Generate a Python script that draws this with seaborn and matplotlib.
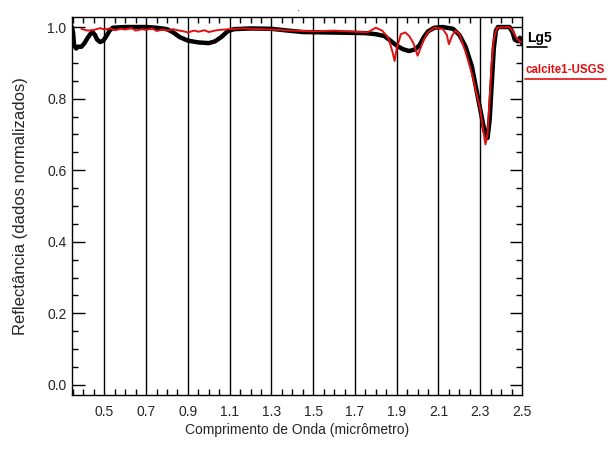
import matplotlib
matplotlib.use("Agg")
import matplotlib.pyplot as plt
import matplotlib.ticker as mticker
import seaborn as sns
import pandas as pd
import numpy as np

# ---- data ----
lg5_wl = [0.345, 0.35, 0.355, 0.365, 0.375, 0.39, 0.405, 0.42, 0.435, 0.445,
          0.455, 0.465, 0.48, 0.495, 0.51, 0.525, 0.54, 0.6, 0.7, 0.75,
          0.8, 0.83, 0.86, 0.9, 0.95, 1.0, 1.03, 1.06, 1.09, 1.12,
          1.2, 1.3, 1.38, 1.45, 1.55, 1.65, 1.75, 1.8, 1.84, 1.87,
          1.9, 1.93, 1.96, 1.99, 2.01, 2.03, 2.05, 2.08, 2.12, 2.17,
          2.2, 2.23, 2.26, 2.28, 2.30, 2.32, 2.335, 2.345, 2.355, 2.365,
          2.375, 2.385, 2.44, 2.455, 2.465, 2.48, 2.49, 2.5]
lg5_refl = [1.00, 0.985, 0.95, 0.94, 0.945, 0.945, 0.955, 0.97, 0.982, 0.985,
            0.978, 0.965, 0.958, 0.962, 0.975, 0.99, 0.998, 1.0, 1.0, 0.998,
            0.994, 0.985, 0.972, 0.962, 0.957, 0.955, 0.96, 0.972, 0.988, 0.994,
            0.996, 0.995, 0.99, 0.986, 0.985, 0.984, 0.983, 0.98, 0.975, 0.962,
            0.948, 0.938, 0.933, 0.938, 0.95, 0.972, 0.988, 0.998, 1.0, 0.995,
            0.978, 0.945, 0.89, 0.83, 0.77, 0.71, 0.69, 0.74, 0.84, 0.94,
            0.99, 1.0, 1.0, 0.985, 0.965, 0.96, 0.97, 0.955]

calcite_wl = [0.39, 0.42, 0.45, 0.48, 0.5, 0.53, 0.55, 0.58, 0.6, 0.63,
              0.65, 0.68, 0.7, 0.73, 0.75, 0.78, 0.8, 0.83, 0.85, 0.88,
              0.9, 0.93, 0.95, 0.98, 1.0, 1.03, 1.05, 1.1, 1.15, 1.2,
              1.3, 1.4, 1.5, 1.6, 1.7, 1.76, 1.8, 1.83, 1.86, 1.88,
              1.89, 1.90, 1.92, 1.94, 1.96, 1.98, 2.0, 2.01, 2.03, 2.05,
              2.08, 2.12, 2.14, 2.15, 2.165, 2.18, 2.2, 2.23, 2.26, 2.28,
              2.30, 2.315, 2.325, 2.335, 2.345, 2.355, 2.365, 2.38, 2.44, 2.46,
              2.475, 2.49, 2.5]
calcite_refl = [0.995, 0.990, 0.992, 0.997, 0.993, 0.996, 0.991, 0.995, 0.993, 0.997,
                0.990, 0.994, 0.992, 0.996, 0.989, 0.993, 0.990, 0.994, 0.991, 0.988,
                0.985, 0.990, 0.987, 0.991, 0.986, 0.990, 0.992, 0.994, 0.996, 0.995,
                0.993, 0.990, 0.988, 0.990, 0.987, 0.985, 0.998, 0.99, 0.97, 0.93,
                0.905, 0.94, 0.98, 0.985, 0.975, 0.955, 0.92, 0.935, 0.965, 0.985,
                0.998, 0.995, 0.978, 0.952, 0.975, 0.99, 0.98, 0.93, 0.87, 0.82,
                0.77, 0.71, 0.672, 0.70, 0.80, 0.90, 0.965, 0.998, 1.0, 0.985,
                0.968, 0.96, 0.957]

series_names = ["Lg5", "calcite1-USGS"]
series_colors = ["#000000", "#e01010"]
x_ticks = [0.5, 0.7, 0.9, 1.1, 1.3, 1.5, 1.7, 1.9, 2.1, 2.3, 2.5]
y_ticks = [0.0, 0.2, 0.4, 0.6, 0.8, 1.0]

df = pd.concat([
    pd.DataFrame({"wl": lg5_wl, "refl": lg5_refl, "serie": series_names[0]}),
    pd.DataFrame({"wl": calcite_wl, "refl": calcite_refl, "serie": series_names[1]}),
])

sns.set_style("white")
plt.rcParams["font.family"] = ["Liberation Sans", "DejaVu Sans"]

fig = plt.figure(figsize=(6.08, 4.5), dpi=100)
ax = fig.add_axes([72/608, 1-395/450, (522-72)/608, (395-17)/450])

sns.lineplot(data=df[df.serie == series_names[0]], x="wl", y="refl", color=series_colors[0],
             lw=3.2, ax=ax, legend=False, sort=False, zorder=3)
sns.lineplot(data=df[df.serie == series_names[1]], x="wl", y="refl", color=series_colors[1],
             lw=1.4, ax=ax, legend=False, sort=False, zorder=4)

ax.set_xlim(0.345, 2.5)
ax.set_ylim(-0.028, 1.028)

ax.set_xticks(x_ticks)
ax.set_xticklabels([f"{t:.1f}" for t in x_ticks], fontsize=10)
ax.xaxis.set_minor_locator(mticker.MultipleLocator(0.05))
ax.tick_params(axis="x", which="major", length=0, pad=7)
ax.tick_params(axis="x", which="minor", direction="in", length=4, width=1,
               top=True, bottom=True, color="black")
for t in x_ticks[:-1]:
    ax.axvline(t, color="black", lw=1.0, zorder=1)

ax.set_yticks(y_ticks)
ax.set_yticklabels([f"{t:.1f}" for t in y_ticks], fontsize=10)
ax.yaxis.set_minor_locator(mticker.MultipleLocator(0.05))
ax.tick_params(axis="y", which="major", direction="in", length=9, width=1,
               left=True, right=True, pad=4, color="black")
ax.tick_params(axis="y", which="minor", direction="in", length=4, width=1,
               left=True, right=True, color="black")

for sp in ax.spines.values():
    sp.set_color("black")
    sp.set_linewidth(1.0)

ax.set_xlabel("Comprimento de Onda (micrômetro)", fontsize=10, labelpad=3)
ax.set_ylabel("Reflectância (dados normalizados)", fontsize=12, labelpad=14)

# legend-like labels at right
fig.text(527/608, 1-38/450, series_names[0], color=series_colors[0], fontsize=10,
         fontweight="bold", va="center", ha="left")
fig.add_artist(plt.Line2D([527/608, 547/608], [1-47/450, 1-47/450], color=series_colors[0], lw=1.2))
fig.text(525/608, 1-70/450, series_names[1], color=series_colors[1], fontsize=8.3,
         fontweight="bold", va="center", ha="left")
fig.add_artist(plt.Line2D([525/608, 606/608], [1-79/450, 1-79/450], color=series_colors[1], lw=1.2))

fig.text(298/608, 1-8/450, ".", fontsize=8, ha="center", va="center")

fig.savefig("out.png", dpi=100)
